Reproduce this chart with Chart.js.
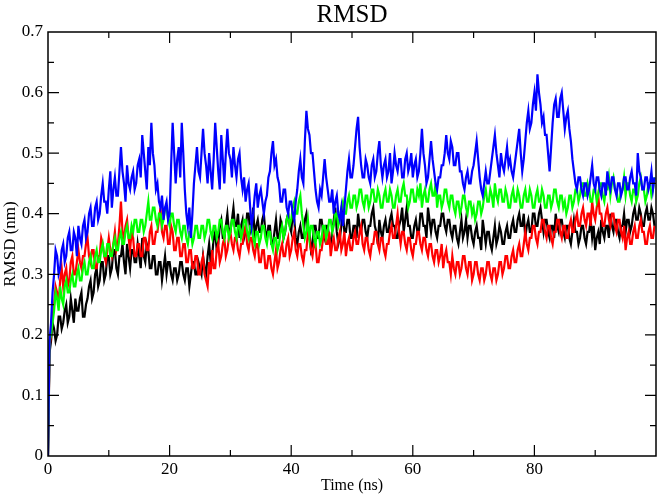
<!DOCTYPE html>
<html>
<head>
<meta charset="utf-8">
<script src="https://cdn.jsdelivr.net/npm/chart.js@4.4.1/dist/chart.umd.min.js"></script>
<style>
  html, body { margin: 0; padding: 0; background: #fff; }
  #wrap { width: 661px; height: 496px; }
</style>
</head>
<body>
<div id="wrap"><canvas id="rmsd"></canvas></div>
<script>
  // time axis (ns), 0.25 ns frames
  const times = [
    0,0.25,0.5,0.75,1,1.25,1.5,1.75,2,2.25,2.5,2.75,3,3.25,3.5,3.75,4,4.25,4.5,4.75,
    5,5.25,5.5,5.75,6,6.25,6.5,6.75,7,7.25,7.5,7.75,8,8.25,8.5,8.75,9,9.25,9.5,9.75,
    10,10.25,10.5,10.75,11,11.25,11.5,11.75,12,12.25,12.5,12.75,13,13.25,13.5,13.75,14,14.25,14.5,14.75,
    15,15.25,15.5,15.75,16,16.25,16.5,16.75,17,17.25,17.5,17.75,18,18.25,18.5,18.75,19,19.25,19.5,19.75,
    20,20.25,20.5,20.75,21,21.25,21.5,21.75,22,22.25,22.5,22.75,23,23.25,23.5,23.75,24,24.25,24.5,24.75,
    25,25.25,25.5,25.75,26,26.25,26.5,26.75,27,27.25,27.5,27.75,28,28.25,28.5,28.75,29,29.25,29.5,29.75,
    30,30.25,30.5,30.75,31,31.25,31.5,31.75,32,32.25,32.5,32.75,33,33.25,33.5,33.75,34,34.25,34.5,34.75,
    35,35.25,35.5,35.75,36,36.25,36.5,36.75,37,37.25,37.5,37.75,38,38.25,38.5,38.75,39,39.25,39.5,39.75,
    40,40.25,40.5,40.75,41,41.25,41.5,41.75,42,42.25,42.5,42.75,43,43.25,43.5,43.75,44,44.25,44.5,44.75,
    45,45.25,45.5,45.75,46,46.25,46.5,46.75,47,47.25,47.5,47.75,48,48.25,48.5,48.75,49,49.25,49.5,49.75,
    50,50.25,50.5,50.75,51,51.25,51.5,51.75,52,52.25,52.5,52.75,53,53.25,53.5,53.75,54,54.25,54.5,54.75,
    55,55.25,55.5,55.75,56,56.25,56.5,56.75,57,57.25,57.5,57.75,58,58.25,58.5,58.75,59,59.25,59.5,59.75,
    60,60.25,60.5,60.75,61,61.25,61.5,61.75,62,62.25,62.5,62.75,63,63.25,63.5,63.75,64,64.25,64.5,64.75,
    65,65.25,65.5,65.75,66,66.25,66.5,66.75,67,67.25,67.5,67.75,68,68.25,68.5,68.75,69,69.25,69.5,69.75,
    70,70.25,70.5,70.75,71,71.25,71.5,71.75,72,72.25,72.5,72.75,73,73.25,73.5,73.75,74,74.25,74.5,74.75,
    75,75.25,75.5,75.75,76,76.25,76.5,76.75,77,77.25,77.5,77.75,78,78.25,78.5,78.75,79,79.25,79.5,79.75,
    80,80.25,80.5,80.75,81,81.25,81.5,81.75,82,82.25,82.5,82.75,83,83.25,83.5,83.75,84,84.25,84.5,84.75,
    85,85.25,85.5,85.75,86,86.25,86.5,86.75,87,87.25,87.5,87.75,88,88.25,88.5,88.75,89,89.25,89.5,89.75,
    90,90.25,90.5,90.75,91,91.25,91.5,91.75,92,92.25,92.5,92.75,93,93.25,93.5,93.75,94,94.25,94.5,94.75,
    95,95.25,95.5,95.75,96,96.25,96.5,96.75,97,97.25,97.5,97.75,98,98.25,98.5,98.75,99,99.25,99.5,99.75
  ];

  // RMSD (nm), one array per trajectory
  const rmsdBlack = [
    0,0.17,0.19,0.22,0.21,0.19,0.2,0.23,0.23,0.21,0.22,0.24,0.25,0.22,0.23,0.26,0.24,0.22,0.26,0.24,
    0.24,0.26,0.27,0.23,0.23,0.25,0.26,0.28,0.29,0.26,0.27,0.3,0.31,0.28,0.29,0.32,0.32,0.29,0.3,0.33,
    0.33,0.3,0.31,0.34,0.34,0.31,0.3,0.33,0.33,0.35,0.32,0.3,0.35,0.33,0.31,0.34,0.34,0.32,0.32,0.35,
    0.33,0.31,0.36,0.33,0.32,0.35,0.34,0.31,0.31,0.33,0.33,0.3,0.3,0.32,0.32,0.29,0.31,0.33,0.3,0.32,
    0.32,0.3,0.29,0.31,0.31,0.29,0.3,0.32,0.32,0.3,0.29,0.31,0.31,0.28,0.3,0.32,0.32,0.3,0.3,0.32,
    0.31,0.3,0.33,0.31,0.3,0.33,0.35,0.32,0.33,0.36,0.37,0.34,0.35,0.38,0.39,0.36,0.36,0.38,0.4,0.37,
    0.37,0.39,0.41,0.38,0.38,0.4,0.36,0.38,0.39,0.36,0.37,0.4,0.4,0.37,0.38,0.41,0.36,0.38,0.39,0.37,
    0.37,0.39,0.4,0.37,0.36,0.38,0.38,0.35,0.35,0.37,0.39,0.36,0.36,0.39,0.38,0.36,0.37,0.39,0.4,0.38,
    0.37,0.4,0.39,0.36,0.35,0.37,0.38,0.36,0.36,0.39,0.4,0.37,0.37,0.34,0.35,0.38,0.38,0.36,0.36,0.39,
    0.39,0.37,0.36,0.38,0.38,0.36,0.35,0.37,0.39,0.41,0.37,0.35,0.36,0.38,0.4,0.37,0.37,0.39,0.39,0.36,
    0.36,0.38,0.38,0.36,0.4,0.38,0.37,0.39,0.39,0.37,0.36,0.38,0.38,0.4,0.41,0.38,0.37,0.35,0.39,0.37,
    0.36,0.38,0.39,0.37,0.37,0.39,0.4,0.38,0.38,0.36,0.36,0.38,0.39,0.41,0.37,0.39,0.41,0.38,0.38,0.36,
    0.36,0.38,0.39,0.37,0.37,0.4,0.4,0.38,0.38,0.36,0.41,0.39,0.37,0.39,0.39,0.37,0.36,0.38,0.38,0.4,
    0.4,0.38,0.37,0.39,0.39,0.37,0.36,0.38,0.38,0.36,0.35,0.37,0.39,0.36,0.37,0.39,0.36,0.38,0.38,0.36,
    0.35,0.37,0.38,0.36,0.36,0.34,0.39,0.37,0.35,0.37,0.37,0.35,0.34,0.36,0.38,0.35,0.36,0.38,0.37,0.35,
    0.35,0.37,0.38,0.36,0.36,0.38,0.39,0.37,0.37,0.39,0.4,0.38,0.38,0.4,0.36,0.38,0.39,0.37,0.37,0.4,
    0.4,0.38,0.38,0.4,0.41,0.39,0.37,0.39,0.39,0.37,0.36,0.38,0.38,0.36,0.4,0.38,0.37,0.39,0.39,0.37,
    0.36,0.38,0.38,0.36,0.35,0.37,0.39,0.37,0.37,0.35,0.36,0.38,0.38,0.36,0.35,0.37,0.37,0.39,0.36,0.38,
    0.34,0.36,0.37,0.35,0.39,0.37,0.36,0.38,0.38,0.36,0.4,0.38,0.37,0.39,0.39,0.37,0.36,0.38,0.38,0.4,
    0.37,0.39,0.39,0.37,0.38,0.4,0.41,0.39,0.39,0.41,0.4,0.38,0.38,0.4,0.41,0.39,0.39,0.41,0.4,0.38
  ];
  const rmsdRed = [
    0,0.18,0.2,0.23,0.25,0.28,0.27,0.25,0.29,0.31,0.28,0.3,0.31,0.28,0.29,0.32,0.33,0.3,0.3,0.32,
    0.34,0.32,0.31,0.33,0.33,0.35,0.36,0.33,0.32,0.34,0.34,0.31,0.31,0.33,0.33,0.36,0.35,0.33,0.32,0.34,
    0.36,0.34,0.33,0.35,0.37,0.34,0.35,0.38,0.42,0.37,0.36,0.38,0.39,0.36,0.34,0.37,0.36,0.33,0.33,0.35,
    0.35,0.33,0.33,0.36,0.36,0.34,0.34,0.37,0.38,0.35,0.35,0.37,0.37,0.39,0.41,0.37,0.36,0.38,0.38,0.35,
    0.35,0.38,0.37,0.34,0.34,0.36,0.36,0.33,0.33,0.35,0.35,0.32,0.32,0.34,0.34,0.31,0.31,0.33,0.33,0.3,
    0.3,0.32,0.33,0.3,0.29,0.28,0.32,0.3,0.34,0.31,0.31,0.34,0.35,0.32,0.33,0.35,0.36,0.33,0.34,0.36,
    0.37,0.35,0.34,0.36,0.36,0.34,0.33,0.35,0.35,0.37,0.38,0.35,0.34,0.36,0.36,0.34,0.33,0.35,0.35,0.32,
    0.32,0.34,0.34,0.31,0.31,0.33,0.33,0.31,0.3,0.32,0.34,0.31,0.32,0.34,0.35,0.33,0.33,0.35,0.36,0.33,
    0.34,0.36,0.37,0.34,0.33,0.35,0.35,0.33,0.32,0.34,0.34,0.37,0.36,0.34,0.33,0.35,0.35,0.32,0.32,0.34,
    0.34,0.36,0.37,0.35,0.35,0.37,0.33,0.35,0.36,0.34,0.34,0.36,0.37,0.34,0.35,0.37,0.33,0.35,0.36,0.34,
    0.34,0.36,0.37,0.35,0.35,0.37,0.38,0.35,0.34,0.36,0.36,0.34,0.33,0.35,0.35,0.37,0.37,0.35,0.34,0.36,
    0.36,0.34,0.33,0.35,0.35,0.37,0.38,0.36,0.36,0.38,0.4,0.37,0.35,0.37,0.37,0.35,0.34,0.36,0.36,0.34,
    0.33,0.35,0.35,0.37,0.37,0.35,0.34,0.36,0.36,0.34,0.33,0.35,0.35,0.33,0.32,0.34,0.34,0.32,0.33,0.35,
    0.31,0.33,0.34,0.32,0.32,0.3,0.33,0.31,0.3,0.32,0.32,0.3,0.31,0.33,0.33,0.31,0.3,0.32,0.32,0.29,
    0.3,0.32,0.32,0.3,0.29,0.31,0.31,0.29,0.3,0.32,0.32,0.3,0.29,0.31,0.31,0.29,0.3,0.32,0.32,0.3,
    0.31,0.33,0.33,0.31,0.31,0.33,0.34,0.32,0.32,0.34,0.35,0.33,0.33,0.35,0.37,0.35,0.34,0.36,0.36,0.38,
    0.38,0.36,0.35,0.37,0.37,0.39,0.39,0.37,0.36,0.38,0.38,0.36,0.35,0.37,0.37,0.39,0.39,0.37,0.36,0.38,
    0.38,0.36,0.36,0.38,0.39,0.37,0.37,0.39,0.4,0.38,0.38,0.4,0.41,0.39,0.38,0.4,0.4,0.38,0.42,0.4,
    0.39,0.41,0.43,0.4,0.4,0.38,0.38,0.4,0.41,0.39,0.38,0.4,0.4,0.38,0.37,0.39,0.39,0.37,0.36,0.38,
    0.34,0.36,0.37,0.35,0.35,0.37,0.38,0.36,0.36,0.38,0.39,0.37,0.37,0.35,0.35,0.37,0.38,0.36,0.36,0.38
  ];
  const rmsdGreen = [
    0,0.19,0.2,0.22,0.24,0.27,0.26,0.24,0.28,0.26,0.25,0.28,0.29,0.27,0.27,0.29,0.3,0.28,0.28,0.3,
    0.31,0.29,0.29,0.31,0.32,0.3,0.3,0.32,0.33,0.31,0.31,0.33,0.34,0.32,0.32,0.34,0.35,0.33,0.33,0.35,
    0.35,0.33,0.33,0.35,0.36,0.34,0.34,0.36,0.37,0.35,0.35,0.37,0.38,0.36,0.36,0.38,0.37,0.39,0.39,0.37,
    0.37,0.39,0.39,0.37,0.38,0.4,0.42,0.39,0.39,0.41,0.41,0.39,0.38,0.4,0.4,0.38,0.39,0.41,0.41,0.39,
    0.38,0.4,0.4,0.38,0.37,0.39,0.39,0.37,0.36,0.38,0.38,0.36,0.35,0.37,0.37,0.35,0.36,0.38,0.38,0.36,
    0.36,0.38,0.38,0.36,0.37,0.39,0.39,0.37,0.36,0.38,0.38,0.36,0.37,0.39,0.39,0.37,0.36,0.38,0.38,0.36,
    0.37,0.39,0.39,0.37,0.36,0.38,0.38,0.36,0.37,0.39,0.39,0.37,0.36,0.38,0.38,0.36,0.35,0.37,0.37,0.35,
    0.36,0.38,0.38,0.36,0.35,0.37,0.37,0.35,0.34,0.36,0.36,0.34,0.35,0.37,0.38,0.36,0.37,0.39,0.4,0.38,
    0.39,0.41,0.42,0.4,0.4,0.42,0.43,0.4,0.38,0.36,0.37,0.39,0.36,0.38,0.38,0.36,0.35,0.37,0.37,0.35,
    0.36,0.38,0.38,0.36,0.37,0.39,0.39,0.37,0.38,0.4,0.4,0.38,0.39,0.41,0.42,0.4,0.4,0.42,0.43,0.41,
    0.41,0.43,0.43,0.41,0.42,0.44,0.44,0.42,0.41,0.43,0.43,0.41,0.42,0.44,0.44,0.42,0.42,0.44,0.43,0.41,
    0.41,0.43,0.44,0.42,0.42,0.44,0.43,0.41,0.41,0.43,0.44,0.42,0.42,0.44,0.45,0.43,0.43,0.41,0.42,0.44,
    0.44,0.42,0.42,0.44,0.43,0.45,0.41,0.43,0.44,0.42,0.42,0.44,0.45,0.43,0.43,0.45,0.41,0.43,0.43,0.41,
    0.42,0.44,0.44,0.42,0.41,0.43,0.43,0.41,0.4,0.42,0.42,0.4,0.41,0.43,0.43,0.41,0.4,0.42,0.42,0.4,
    0.41,0.39,0.4,0.42,0.42,0.4,0.41,0.43,0.44,0.42,0.42,0.44,0.43,0.41,0.45,0.43,0.42,0.44,0.44,0.42,
    0.42,0.44,0.43,0.41,0.41,0.43,0.44,0.42,0.42,0.44,0.43,0.41,0.41,0.43,0.44,0.42,0.42,0.44,0.43,0.41,
    0.41,0.43,0.44,0.42,0.42,0.44,0.43,0.41,0.41,0.43,0.43,0.41,0.42,0.44,0.44,0.42,0.41,0.43,0.43,0.41,
    0.42,0.4,0.41,0.43,0.43,0.41,0.42,0.44,0.44,0.42,0.43,0.45,0.45,0.43,0.43,0.45,0.44,0.42,0.42,0.44,
    0.44,0.42,0.43,0.45,0.45,0.43,0.42,0.44,0.44,0.46,0.43,0.45,0.46,0.44,0.44,0.42,0.42,0.44,0.44,0.46,
    0.43,0.45,0.45,0.43,0.42,0.44,0.44,0.42,0.43,0.45,0.46,0.44,0.44,0.42,0.43,0.45,0.45,0.43,0.44,0.46
  ];
  const rmsdBlue = [
    0,0.19,0.22,0.27,0.3,0.34,0.33,0.3,0.31,0.34,0.35,0.32,0.33,0.36,0.37,0.34,0.34,0.37,0.36,0.33,
    0.38,0.36,0.35,0.38,0.39,0.36,0.37,0.4,0.41,0.38,0.38,0.41,0.42,0.39,0.4,0.43,0.45,0.42,0.42,0.4,
    0.44,0.47,0.41,0.44,0.46,0.43,0.43,0.47,0.51,0.47,0.45,0.42,0.48,0.45,0.44,0.46,0.47,0.44,0.45,0.48,
    0.49,0.46,0.53,0.5,0.47,0.44,0.51,0.48,0.55,0.5,0.48,0.44,0.45,0.42,0.41,0.43,0.39,0.41,0.42,0.39,
    0.4,0.48,0.55,0.5,0.45,0.49,0.51,0.46,0.55,0.5,0.44,0.4,0.38,0.41,0.36,0.4,0.45,0.48,0.51,0.47,
    0.46,0.5,0.54,0.5,0.48,0.45,0.5,0.47,0.44,0.49,0.55,0.51,0.47,0.44,0.53,0.49,0.45,0.5,0.54,0.5,
    0.49,0.46,0.51,0.48,0.46,0.49,0.5,0.46,0.44,0.46,0.42,0.44,0.45,0.41,0.38,0.4,0.43,0.45,0.41,0.43,
    0.44,0.42,0.4,0.42,0.43,0.46,0.47,0.5,0.52,0.48,0.49,0.46,0.45,0.42,0.42,0.44,0.44,0.41,0.4,0.42,
    0.42,0.4,0.39,0.42,0.44,0.47,0.49,0.46,0.45,0.52,0.57,0.54,0.53,0.5,0.5,0.47,0.44,0.42,0.41,0.44,
    0.43,0.46,0.49,0.46,0.44,0.42,0.42,0.44,0.4,0.42,0.43,0.4,0.39,0.41,0.38,0.41,0.44,0.47,0.49,0.46,
    0.46,0.48,0.51,0.54,0.56,0.51,0.48,0.46,0.46,0.49,0.48,0.46,0.45,0.48,0.49,0.46,0.47,0.5,0.52,0.48,
    0.46,0.48,0.49,0.46,0.47,0.5,0.45,0.47,0.5,0.48,0.47,0.49,0.49,0.46,0.46,0.49,0.5,0.47,0.48,0.5,
    0.46,0.48,0.49,0.46,0.47,0.5,0.54,0.5,0.48,0.45,0.46,0.49,0.52,0.49,0.47,0.45,0.44,0.46,0.46,0.48,
    0.48,0.5,0.53,0.5,0.49,0.52,0.51,0.48,0.48,0.5,0.5,0.47,0.47,0.45,0.44,0.46,0.47,0.45,0.45,0.47,
    0.48,0.5,0.52,0.49,0.46,0.44,0.43,0.45,0.47,0.45,0.45,0.47,0.49,0.51,0.53,0.5,0.48,0.46,0.5,0.48,
    0.47,0.49,0.51,0.48,0.49,0.47,0.46,0.48,0.5,0.52,0.54,0.5,0.47,0.49,0.52,0.55,0.57,0.54,0.55,0.58,
    0.6,0.57,0.63,0.6,0.58,0.55,0.56,0.53,0.53,0.5,0.47,0.51,0.55,0.58,0.59,0.56,0.56,0.59,0.6,0.57,
    0.54,0.56,0.57,0.54,0.52,0.49,0.47,0.45,0.44,0.46,0.46,0.44,0.43,0.45,0.45,0.43,0.44,0.46,0.48,0.45,
    0.44,0.46,0.46,0.44,0.43,0.45,0.45,0.43,0.47,0.45,0.44,0.46,0.46,0.44,0.43,0.45,0.45,0.43,0.44,0.46,
    0.46,0.44,0.44,0.46,0.47,0.45,0.45,0.43,0.5,0.47,0.46,0.44,0.44,0.46,0.46,0.44,0.45,0.47,0.44,0.46
  ];

  const xTicks = [0, 20, 40, 60, 80];
  const yTicks = [0, 0.1, 0.2, 0.3, 0.4, 0.5, 0.6, 0.7];

  const serif = "'Liberation Serif', 'DejaVu Serif', serif";

  function pts(ys) {
    return times.map((t, i) => ({ x: t, y: ys[i] }));
  }

  // grace-style frame, inward ticks on all four sides, title centred on the plot
  const frameTicks = {
    id: 'frameTicks',
    afterDatasetsDraw(chart) {
      const { ctx, chartArea: a, scales: { x, y } } = chart;
      ctx.save();
      ctx.strokeStyle = '#000';
      ctx.lineWidth = 1.5;
      ctx.strokeRect(a.left, a.top, a.right - a.left, a.bottom - a.top);
      ctx.lineWidth = 1.2;
      ctx.beginPath();
      for (let v = 10; v < 100; v += 10) {
        const px = x.getPixelForValue(v);
        const len = v % 20 === 0 ? 11 : 6;
        ctx.moveTo(px, a.bottom); ctx.lineTo(px, a.bottom - len);
        ctx.moveTo(px, a.top); ctx.lineTo(px, a.top + len);
      }
      for (let k = 1; k < 14; k++) {
        const py = y.getPixelForValue(k * 0.05);
        const len = k % 2 === 0 ? 11 : 6;
        ctx.moveTo(a.left, py); ctx.lineTo(a.left + len, py);
        ctx.moveTo(a.right, py); ctx.lineTo(a.right - len, py);
      }
      ctx.stroke();

      ctx.fillStyle = '#000';
      ctx.font = '25px ' + serif;
      ctx.textAlign = 'center';
      ctx.textBaseline = 'alphabetic';
      ctx.fillText('RMSD', (a.left + a.right) / 2, 22);
      ctx.restore();
    }
  };

  new Chart(document.getElementById('rmsd'), {
    type: 'line',
    data: {
      datasets: [
        { label: 'black', data: pts(rmsdBlack), borderColor: '#000000', order: 4 },
        { label: 'red', data: pts(rmsdRed), borderColor: '#ff0000', order: 3 },
        { label: 'green', data: pts(rmsdGreen), borderColor: '#00ff00', order: 2 },
        { label: 'blue', data: pts(rmsdBlue), borderColor: '#0000ff', order: 1 }
      ]
    },
    options: {
      responsive: true,
      maintainAspectRatio: false,
      animation: false,
      layout: { padding: { top: 32, right: 5, left: 0, bottom: 0 } },
      elements: {
        line: { borderWidth: 2.2, tension: 0 },
        point: { radius: 0 }
      },
      plugins: {
        legend: { display: false },
        tooltip: { enabled: false },
        title: { display: false }
      },
      scales: {
        x: {
          type: 'linear',
          min: 0,
          max: 100,
          afterBuildTicks: s => { s.ticks = xTicks.map(v => ({ value: v })); },
          afterFit: s => { s.height = 40; },
          grid: { display: false, drawTicks: false },
          border: { display: false },
          ticks: { color: '#000', padding: 3, maxRotation: 0, font: { family: serif, size: 17 } },
          title: {
            display: true,
            text: 'Time (ns)',
            color: '#000',
            padding: { top: 0, bottom: 1 },
            font: { family: serif, size: 16 }
          }
        },
        y: {
          min: 0,
          max: 0.7,
          afterBuildTicks: s => { s.ticks = yTicks.map(v => ({ value: v })); },
          afterFit: s => { s.width = 48; },
          grid: { display: false, drawTicks: false },
          border: { display: false },
          ticks: {
            color: '#000',
            padding: 5,
            font: { family: serif, size: 17 },
            callback: v => (v === 0 ? '0' : v.toFixed(1))
          },
          title: {
            display: true,
            text: 'RMSD (nm)',
            color: '#000',
            padding: { top: 0, bottom: 0 },
            font: { family: serif, size: 17 }
          }
        }
      }
    },
    plugins: [frameTicks]
  });
</script>
</body>
</html>
